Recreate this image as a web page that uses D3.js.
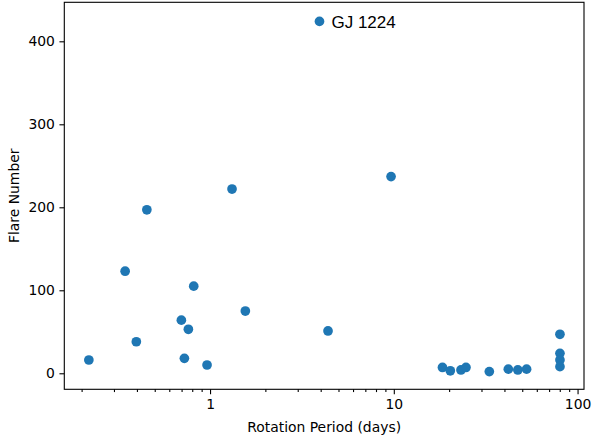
<!DOCTYPE html>
<html>
<head>
<meta charset="utf-8">
<script src="https://cdn.jsdelivr.net/npm/d3@7"></script>
<style>
  body { margin: 0; background: #fff; }
  svg text { font-family: "DejaVu Sans", sans-serif; }
</style>
</head>
<body>
<div id="chart"></div>
<script>
// Rotation period (days) vs number of flares
const periods = [0.219, 0.345, 0.397, 0.453, 0.698, 0.762, 0.725, 0.815, 0.963, 1.317, 1.556, 4.385,
                 3.94, 9.66, 18.4, 20.3, 23.2, 24.7, 33.1, 42.0, 47.3, 52.8, 80.2, 80.2, 80.2, 80.2];
const flares = [16, 123, 38, 197, 64, 53, 18, 105, 10, 222, 75, 51,
                424, 237, 7, 3, 4, 7, 2, 5, 4, 5, 47, 24, 16, 8];
const names = ['', '', '', '', '', '', '', '', '', '', '', '',
               'GJ 1224', '', '', '', '', '', '', '', '', '', '', '', '', ''];

const xMajor = [1, 10, 100];
const xMinor = [0.2, 0.3, 0.4, 0.5, 0.6, 0.7, 0.8, 0.9, 2, 3, 4, 5, 6, 7, 8, 9, 20, 30, 40, 50, 60, 70, 80, 90];
const yTicks = [0, 100, 200, 300, 400];

const width = 592, height = 439;
const plotLeft = 64.3, plotRight = 584, plotTop = 2.3, plotBottom = 389.3;

const svg = d3.select('#chart').append('svg')
    .attr('width', width)
    .attr('height', height);

const x = d3.scaleLog().domain([0.161, 108.4]).range([plotLeft, plotRight]);
const y = d3.scaleLinear().domain([-19.3, 447]).range([plotBottom, plotTop]);

const data = periods.map((p, i) => ({ p, n: flares[i], name: names[i] }));

// Points
svg.append('g').selectAll('circle')
    .data(data)
    .enter()
    .append('circle')
    .attr('cx', d => x(d.p))
    .attr('cy', d => y(d.n))
    .attr('r', 4.85)
    .attr('fill', '#1f77b4');

// Annotation
svg.append('g').selectAll('text')
    .data(data.filter(d => d.name))
    .enter()
    .append('text')
    .attr('x', d => x(d.p) + 12)
    .attr('y', d => y(d.n) + 6.5)
    .attr('font-size', '17px')
    .style('font-family', '"Liberation Sans", Arial, sans-serif')
    .attr('fill', '#000')
    .text(d => d.name);

// Axes
const xAxis = svg.append('g')
    .attr('transform', `translate(0,${plotBottom})`)
    .call(d3.axisBottom(x).tickValues(xMajor).tickFormat(d3.format('d'))
        .tickSize(4.86).tickPadding(4.5));

const xAxisMinor = svg.append('g')
    .attr('transform', `translate(0,${plotBottom})`)
    .call(d3.axisBottom(x).tickValues(xMinor).tickFormat('').tickSize(2.78));

const yAxis = svg.append('g')
    .attr('transform', `translate(${plotLeft},0)`)
    .call(d3.axisLeft(y).tickValues(yTicks).tickSize(4.86).tickPadding(4.5));

[xAxis, xAxisMinor, yAxis].forEach(a => {
    a.select('.domain').remove();
    a.selectAll('line').attr('stroke', '#000').attr('stroke-width', 1.1);
    a.selectAll('text')
        .attr('fill', '#000')
        .attr('font-size', '13.9px')
        .style('font-family', '"DejaVu Sans", sans-serif');
});

// Frame
svg.append('rect')
    .attr('x', plotLeft)
    .attr('y', plotTop)
    .attr('width', plotRight - plotLeft)
    .attr('height', plotBottom - plotTop)
    .attr('fill', 'none')
    .attr('stroke', '#000')
    .attr('stroke-width', 1.1);

// Axis labels
svg.append('text')
    .attr('x', (plotLeft + plotRight) / 2)
    .attr('y', 431.5)
    .attr('text-anchor', 'middle')
    .attr('font-size', '13.9px')
    .attr('fill', '#000')
    .text('Rotation Period (days)');

svg.append('text')
    .attr('transform', `translate(19,${(plotTop + plotBottom) / 2}) rotate(-90)`)
    .attr('text-anchor', 'middle')
    .attr('font-size', '13.9px')
    .attr('fill', '#000')
    .text('Flare Number');
</script>
</body>
</html>
